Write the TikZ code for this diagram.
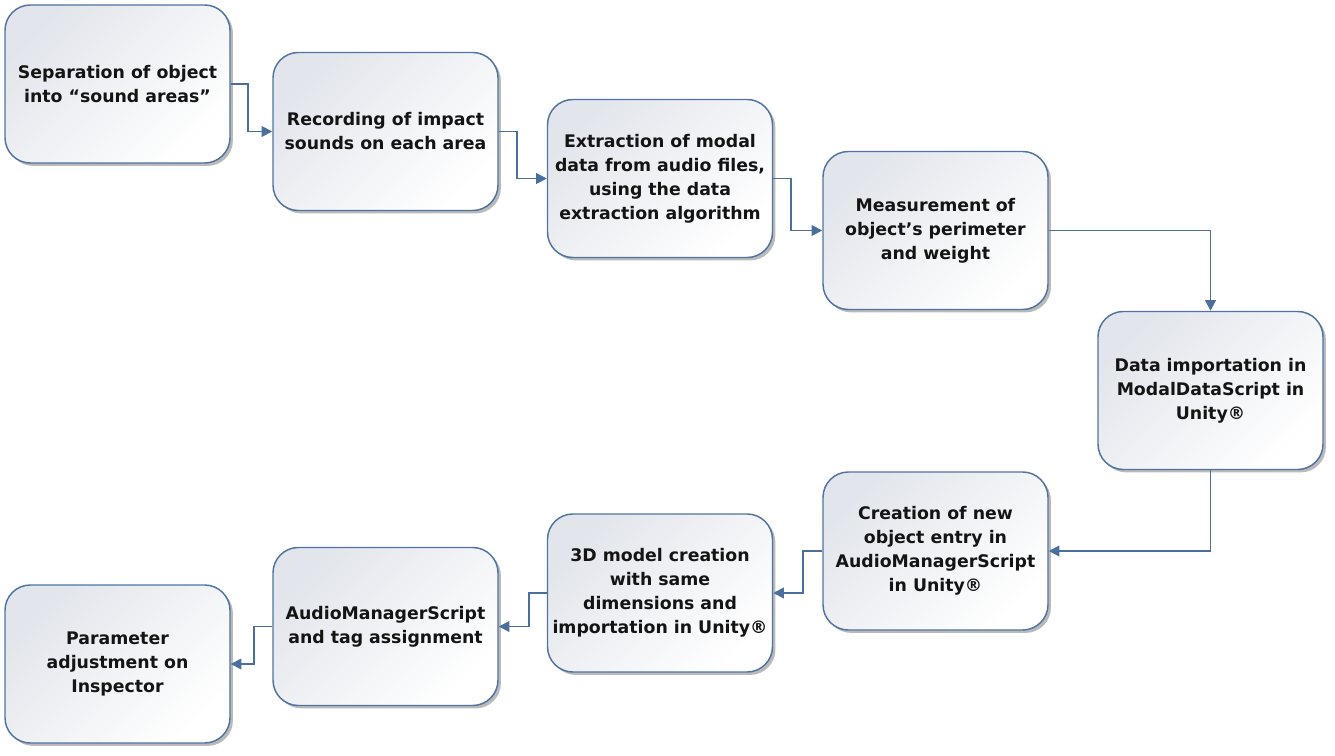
\documentclass[tikz,border=0pt]{standalone}
\usepackage{fontspec}
\setmainfont{DejaVu Sans}
\usetikzlibrary{shadows,arrows.meta}
\definecolor{bord}{HTML}{4F74A0}
\definecolor{arr}{HTML}{4A6F9C}
\definecolor{topc}{HTML}{E2E5EB}
\tikzset{
  stepbox/.style={draw=bord, line width=1.1pt, rounded corners=19pt, minimum width=168.75pt, minimum height=118.5pt,
    top color=topc, bottom color=white, shading angle=45,
    drop shadow={shadow xshift=2.2pt, shadow yshift=-2.2pt, opacity=0.45, fill=black!60},
    align=center, font=\fontsize{13}{18}\selectfont\bfseries, text=black!92},
  conn/.style={draw=arr, line width=1.4pt, -{Triangle[length=8pt,width=8pt]}}
}
\begin{document}
\begin{tikzpicture}[x=0.75pt,y=-0.75pt]
\useasboundingbox (0,0) rectangle (1335,756);
\node[stepbox] (b1) at (117.5,84) {Separation of object\\into “sound areas”};
\node[stepbox] (b2) at (385.5,131.5) {Recording of impact\\sounds on each area};
\node[stepbox] (b3) at (660,178.5) {Extraction of modal\\data from audio files,\\using the data\\extraction algorithm};
\node[stepbox] (b4) at (935.5,230.5) {Measurement of\\object’s perimeter\\and weight};
\node[stepbox] (b5) at (1210.5,390.5) {Data importation in\\ModalDataScript in\\Unity®};
\node[stepbox] (b6) at (935.5,551) {Creation of new\\object entry in\\AudioManagerScript\\in Unity®};
\node[stepbox] (b7) at (660,593) {3D model creation\\with same\\dimensions and\\importation in Unity®};
\node[stepbox] (b8) at (385.5,626.5) {AudioManagerScript\\and tag assignment};
\node[stepbox] (b9) at (117.5,664) {Parameter\\adjustment on\\Inspector};
\draw[conn] (b1.east) -- ++(17,0) |- (b2.west);
\draw[conn] (b2.east) -- ++(18,0) |- (b3.west);
\draw[conn] (b3.east) -- ++(18,0) |- (b4.west);
\draw[conn] (b4.east) -| (b5.north);
\draw[conn] (b5.south) |- (b6.east);
\draw[conn] (b6.west) -- ++(-19,0) |- (b7.east);
\draw[conn] (b7.west) -- ++(-18,0) |- (b8.east);
\draw[conn] (b8.west) -- ++(-18,0) |- (b9.east);
\end{tikzpicture}
\end{document}
